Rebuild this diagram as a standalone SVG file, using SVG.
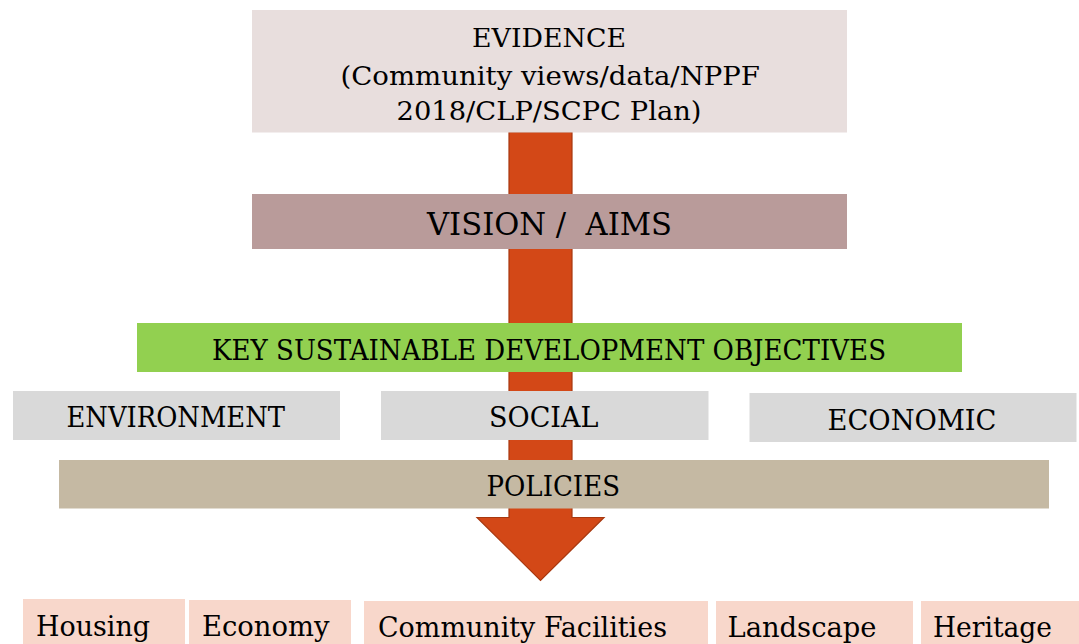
<svg xmlns="http://www.w3.org/2000/svg" width="1079" height="644" viewBox="0 0 1079 644">
<style>
text{font-family:"DejaVu Serif","Liberation Serif",serif;fill:#000;white-space:pre}
.t26{font-size:26px}
.t27{font-size:27px}
.t32{font-size:32px}
.t28{font-size:28px}
.gray{fill:#D9D9D9}
.pink{fill:#F8D7CB}
</style>
<rect width="1079" height="644" fill="#FFFFFF"/>
<g id="connectors">
<path d="M509,132 L572,132 L572,517.5 L604,517.5 L540.5,580.5 L477,517.5 L509,517.5 Z" fill="#D34817" stroke="#A7380F" stroke-width="1.2"/>
</g>
<g id="evidence">
<rect x="252" y="10" width="595" height="122.5" fill="#E8DEDD"/>
<text class="t26" x="472" y="46.5" textLength="154" lengthAdjust="spacingAndGlyphs">EVIDENCE</text>
<text class="t26" x="340.5" y="85" textLength="419.5" lengthAdjust="spacingAndGlyphs">(Community views/data/NPPF</text>
<text class="t26" x="396.5" y="119.5" textLength="305" lengthAdjust="spacingAndGlyphs">2018/CLP/SCPC Plan)</text>
</g>
<g id="vision">
<rect x="252" y="194" width="595" height="55" fill="#B99B9A"/>
<text class="t32" x="427" y="234.5" textLength="245" lengthAdjust="spacingAndGlyphs">VISION /  AIMS</text>
</g>
<g id="objectives">
<rect x="137" y="323" width="825" height="49" fill="#92D050"/>
<text class="t27" x="212" y="359.5" textLength="674" lengthAdjust="spacingAndGlyphs">KEY SUSTAINABLE DEVELOPMENT OBJECTIVES</text>
</g>
<g id="environment">
<rect class="gray" x="13" y="391" width="327" height="49"/>
<text class="t27" x="66.5" y="427" textLength="218.5" lengthAdjust="spacingAndGlyphs">ENVIRONMENT</text>
</g>
<g id="social">
<rect class="gray" x="381" y="391" width="327.5" height="49"/>
<text class="t27" x="489" y="427" textLength="109.5" lengthAdjust="spacingAndGlyphs">SOCIAL</text>
</g>
<g id="economic">
<rect class="gray" x="749.5" y="393" width="327" height="49"/>
<text class="t27" x="827.5" y="429.5" textLength="169" lengthAdjust="spacingAndGlyphs">ECONOMIC</text>
</g>
<g id="policies">
<rect x="59" y="460" width="990" height="48.5" fill="#C5B9A3"/>
<text class="t27" x="486.5" y="496" textLength="133.5" lengthAdjust="spacingAndGlyphs">POLICIES</text>
</g>
<g id="housing">
<rect class="pink" x="23" y="599" width="162" height="45"/>
<text class="t28" x="36" y="635.5" textLength="114" lengthAdjust="spacingAndGlyphs">Housing</text>
</g>
<g id="economy">
<rect class="pink" x="189" y="600" width="162" height="44"/>
<text class="t28" x="202" y="636" textLength="127.5" lengthAdjust="spacingAndGlyphs">Economy</text>
</g>
<g id="community-facilities">
<rect class="pink" x="364" y="601" width="344" height="43"/>
<text class="t28" x="378" y="637" textLength="289" lengthAdjust="spacingAndGlyphs">Community Facilities</text>
</g>
<g id="landscape">
<rect class="pink" x="716" y="601" width="197" height="43"/>
<text class="t28" x="727.5" y="637" textLength="149" lengthAdjust="spacingAndGlyphs">Landscape</text>
</g>
<g id="heritage">
<rect class="pink" x="921" y="601" width="158" height="43"/>
<text class="t28" x="933" y="637" textLength="119" lengthAdjust="spacingAndGlyphs">Heritage</text>
</g>
</svg>
